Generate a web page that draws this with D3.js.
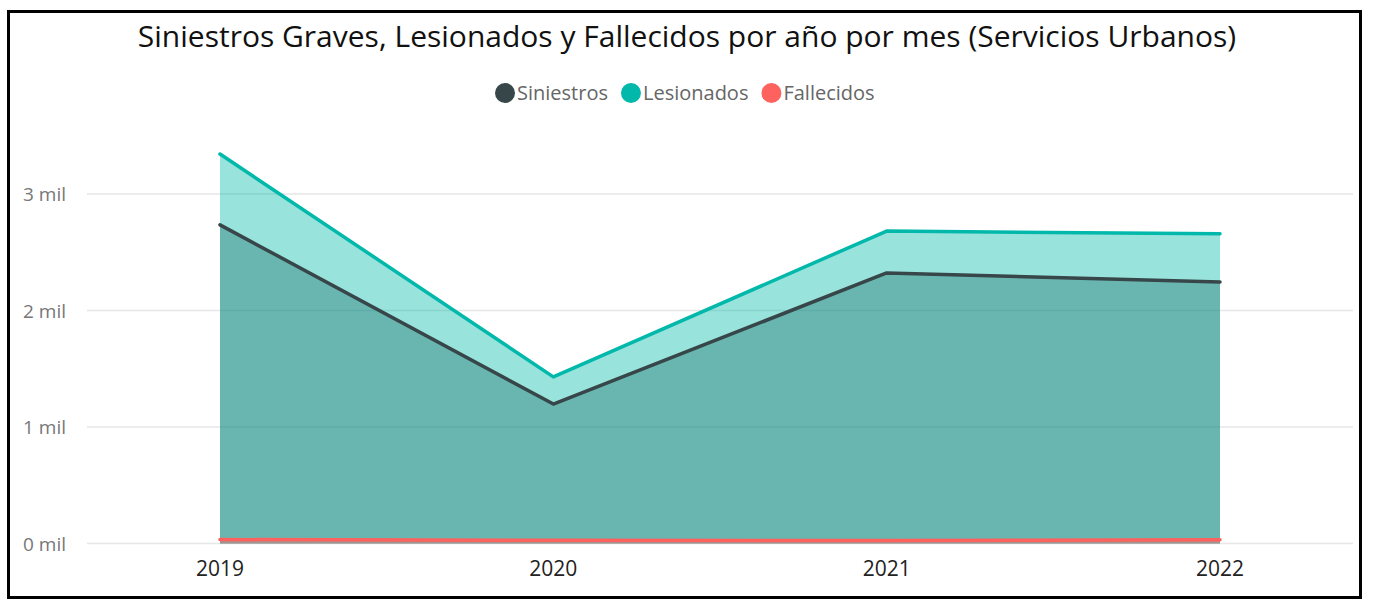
<!DOCTYPE html>
<html>
<head>
<meta charset="utf-8">
<title>Siniestros Servicios Urbanos</title>
<script src="https://d3js.org/d3.v7.min.js"></script>
<style>
    body { margin: 0; background: #fff; }
    svg { display: block; font-family: "Open Sans", "Noto Sans", sans-serif; }
    .grid line { stroke: #e6e6e6; stroke-width: 1.5px; }
    .yaxis text { fill: #777; font-size: 19px; }
    .xaxis text { fill: #222; font-size: 21px; }
</style>
</head>
<body>
<svg id="chart"></svg>
<script>
    // data
    const years = ["2019", "2020", "2021", "2022"];
    const siniestros = [2735, 1197, 2322, 2245];
    const lesionados = [3343, 1430, 2682, 2658];
    const fallecidos = [34, 27, 25, 32];
    const yTicks = [0, 1000, 2000, 3000];

    const seriesNames = ["Siniestros", "Lesionados", "Fallecidos"];
    const colors = ["#374649", "#01B8AA", "#FD625E"];

    const W = 1374, H = 601;
    const svg = d3.select("#chart").attr("width", W).attr("height", H);

    // frame
    svg.append("rect")
        .attr("x", 8.5).attr("y", 11.5)
        .attr("width", 1352).attr("height", 586)
        .attr("fill", "none").attr("stroke", "#000").attr("stroke-width", 3);

    // title
    svg.append("text")
        .attr("x", 687).attr("y", 47)
        .attr("text-anchor", "middle")
        .attr("font-size", 30)
        .attr("fill", "#111")
        .text("Siniestros Graves, Lesionados y Fallecidos por año por mes (Servicios Urbanos)");

    // legend
    const legend = svg.append("g").attr("transform", "translate(495,93)");
    let lx = 0;
    seriesNames.forEach((name, i) => {
        const g = legend.append("g").attr("transform", `translate(${lx},0)`);
        g.append("circle").attr("cx", 10).attr("cy", 0).attr("r", 10).attr("fill", colors[i]);
        const t = g.append("text").attr("x", 22).attr("y", 7)
            .attr("font-size", 20).attr("fill", "#666").text(name);
        lx += 22 + t.node().getComputedTextLength() + 13;
    });

    // scales
    const x = d3.scalePoint().domain(years).range([220, 1220]);
    const y = d3.scaleLinear().domain([0, 3000]).range([543.5, 194]);

    // gridlines
    svg.append("g").attr("class", "grid")
        .selectAll("line").data(yTicks).join("line")
        .attr("x1", 87).attr("x2", 1353)
        .attr("y1", d => y(d)).attr("y2", d => y(d));

    // y axis labels
    svg.append("g").attr("class", "yaxis")
        .selectAll("text").data(yTicks).join("text")
        .attr("x", 66).attr("y", d => y(d) + 7)
        .attr("text-anchor", "end")
        .text(d => (d / 1000) + " mil");

    // x axis labels
    svg.append("g").attr("class", "xaxis")
        .selectAll("text").data(years).join("text")
        .attr("x", d => x(d)).attr("y", 576)
        .attr("text-anchor", "middle")
        .text(d => d);

    const series = [siniestros, lesionados, fallecidos];

    const area = d3.area()
        .x((d, i) => x(years[i]))
        .y0(y(0))
        .y1(d => y(d));
    const line = d3.line()
        .x((d, i) => x(years[i]))
        .y(d => y(d));

    // overlapping areas
    series.forEach((vals, i) => {
        svg.append("path")
            .datum(vals)
            .attr("d", area)
            .attr("fill", colors[i])
            .attr("fill-opacity", 0.4);
    });
    series.forEach((vals, i) => {
        svg.append("path")
            .datum(vals)
            .attr("d", line)
            .attr("fill", "none")
            .attr("stroke", colors[i])
            .attr("stroke-width", 3.5)
            .attr("stroke-linecap", "round")
            .attr("stroke-linejoin", "round");
    });
</script>
</body>
</html>
